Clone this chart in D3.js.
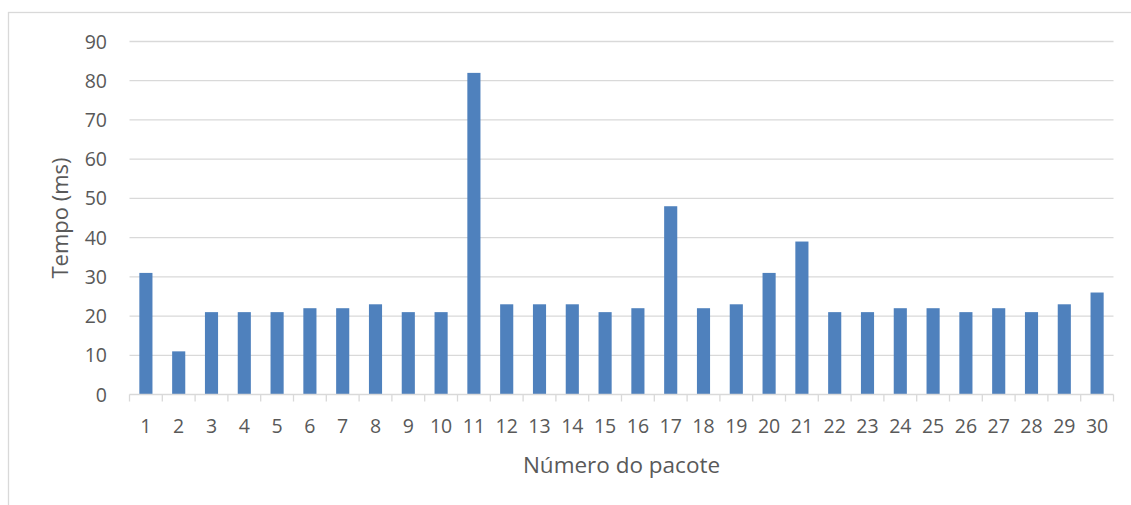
<!DOCTYPE html>
<html>
<head>
<meta charset="utf-8">
<script src="https://cdn.jsdelivr.net/npm/d3@7"></script>
<style>
  html, body { margin: 0; padding: 0; background: #fff; }
  svg { display: block; }
  text { font-family: "Open Sans", "Liberation Sans", sans-serif; fill: #595959; }
</style>
</head>
<body>
<svg id="chart" width="1131" height="505"></svg>
<script>
// Packet index and measured time (ms)
const packets = d3.range(1, 31).map(String);
const timesMs = [31, 11, 21, 21, 21, 22, 22, 23, 21, 21,
                 82, 23, 23, 23, 21, 22, 48, 22, 23, 31,
                 39, 21, 21, 22, 22, 21, 22, 21, 23, 26];
const yTicks = [0, 10, 20, 30, 40, 50, 60, 70, 80, 90];
const xTitle = "Número do pacote";
const yTitle = "Tempo (ms)";

const svg = d3.select("#chart");
const plot = { left: 129.5, right: 1113.5, top: 41.5, bottom: 394.5 };

// outer chart frame
svg.append("rect")
  .attr("x", 8.5).attr("y", 12.5)
  .attr("width", 1140).attr("height", 520)
  .attr("fill", "none").attr("stroke", "#d9d9d9").attr("stroke-width", 1.3);

const x = d3.scaleBand()
  .domain(packets)
  .range([plot.left, plot.right])
  .paddingInner(0.6).paddingOuter(0.3);

const y = d3.scaleLinear().domain([0, 90]).range([plot.bottom, plot.top]);

// horizontal gridlines
svg.append("g").selectAll("line")
  .data(yTicks.filter(d => d > 0))
  .join("line")
  .attr("x1", plot.left).attr("x2", plot.right)
  .attr("y1", d => y(d)).attr("y2", d => y(d))
  .attr("stroke", "#d9d9d9").attr("stroke-width", 1.3);

// bars
svg.append("g").selectAll("rect")
  .data(timesMs)
  .join("rect")
  .attr("x", (d, i) => x(packets[i]))
  .attr("width", x.bandwidth())
  .attr("y", d => y(d))
  .attr("height", d => y(0) - y(d))
  .attr("fill", "#4f81bd");

// category axis with ticks at band boundaries
const step = x.step();
const xAxis = svg.append("g");
xAxis.append("line")
  .attr("x1", plot.left).attr("x2", plot.right)
  .attr("y1", plot.bottom).attr("y2", plot.bottom)
  .attr("stroke", "#d9d9d9").attr("stroke-width", 1.3);
xAxis.selectAll("line.tick")
  .data(d3.range(packets.length + 1))
  .join("line").attr("class", "tick")
  .attr("x1", i => plot.left + i * step).attr("x2", i => plot.left + i * step)
  .attr("y1", plot.bottom).attr("y2", plot.bottom + 7)
  .attr("stroke", "#d9d9d9").attr("stroke-width", 1.3);
xAxis.selectAll("text")
  .data(packets)
  .join("text")
  .attr("x", d => x(d) + x.bandwidth() / 2)
  .attr("y", 432.5)
  .attr("text-anchor", "middle")
  .style("font-size", "19.5px")
  .text(d => d);

// value axis labels
svg.append("g").selectAll("text")
  .data(yTicks)
  .join("text")
  .attr("x", 107)
  .attr("y", d => y(d) + 7)
  .attr("text-anchor", "end")
  .style("font-size", "19.5px")
  .text(d => d);

// axis titles
svg.append("text")
  .attr("x", (plot.left + plot.right) / 2)
  .attr("y", 473)
  .attr("text-anchor", "middle")
  .style("font-size", "22.5px")
  .text(xTitle);

svg.append("text")
  .attr("transform", `translate(68, ${(plot.top + plot.bottom) / 2}) rotate(-90)`)
  .attr("text-anchor", "middle")
  .style("font-size", "22px")
  .text(yTitle);
</script>
</body>
</html>
